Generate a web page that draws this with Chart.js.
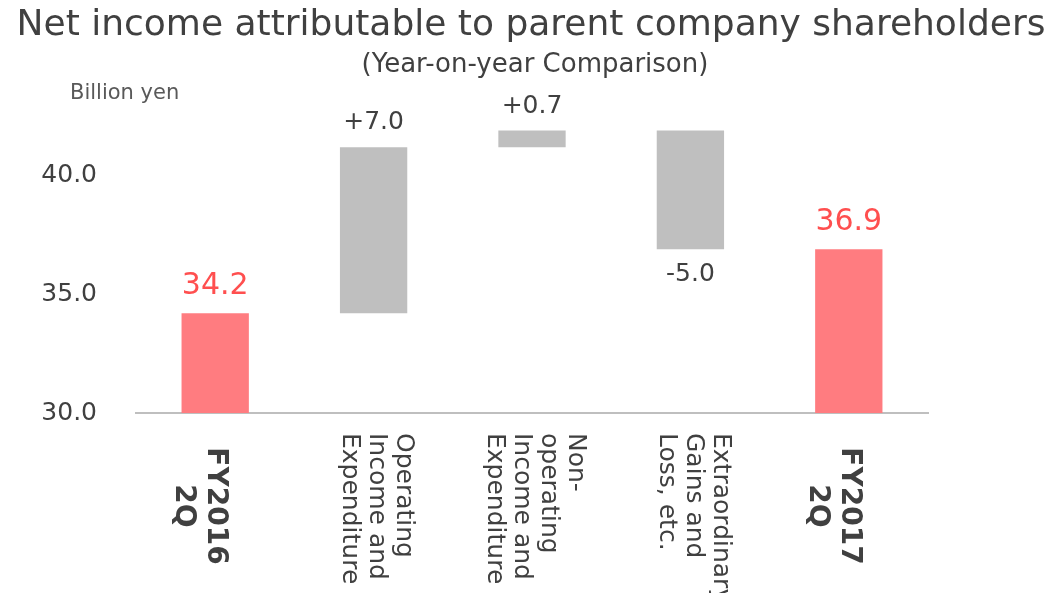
<!DOCTYPE html>
<html>
<head>
<meta charset="utf-8">
<script src="https://cdn.jsdelivr.net/npm/chart.js@4"></script>
<style>
  html, body { margin: 0; padding: 0; background: #fff; }
  #wrap { width: 1060px; height: 593px; }
</style>
</head>
<body>
<div id="wrap"><canvas id="waterfallChart"></canvas></div>
<script>
// chart data
const categories = [
    ['FY2016', '2Q'],
    ['Operating', 'Income and', 'Expenditure'],
    ['Non-', 'operating', 'Income and', 'Expenditure'],
    ['Extraordinary', 'Gains and', 'Loss, etc.'],
    ['FY2017', '2Q']
];
const barStart = [0, 34.2, 41.2, 41.9, 0];
const barEnd = [34.2, 41.2, 41.9, 36.9, 36.9];
const valueLabels = ['34.2', '+7.0', '+0.7', '-5.0', '36.9'];
const isTotal = [true, false, false, false, true];
const yTicks = [30, 35, 40];

const titleText = 'Net income attributable to parent company shareholders';
const subtitleText = '(Year-on-year Comparison)';
const unitText = 'Billion yen';

const RED = '#FF7C80';
const RED_TEXT = '#FF4F4F';
const GRAY = '#BFBFBF';
const TEXT = '#404040';
const FONT = '"DejaVu Sans", Verdana, sans-serif';

// draws titles, value labels and the rotated category labels
const labelPlugin = {
    id: 'waterfallLabels',
    afterDraw: function (chart) {
        const ctx = chart.ctx;
        const xScale = chart.scales.x;
        const yScale = chart.scales.y;
        const meta = chart.getDatasetMeta(0);

        ctx.save();
        ctx.textAlign = 'center';
        ctx.textBaseline = 'middle';
        ctx.fillStyle = TEXT;
        ctx.font = '36px ' + FONT;
        ctx.fillText(titleText, 531, 26);
        ctx.font = '26px ' + FONT;
        ctx.fillText(subtitleText, 535, 65);

        ctx.textAlign = 'left';
        ctx.fillStyle = '#595959';
        ctx.font = '21px ' + FONT;
        ctx.fillText(unitText, 70, 94);

        // value labels
        meta.data.forEach(function (bar, i) {
            const up = barEnd[i] >= barStart[i];
            const top = yScale.getPixelForValue(Math.max(barStart[i], barEnd[i]));
            const bottom = yScale.getPixelForValue(Math.min(barStart[i], barEnd[i]));
            ctx.textAlign = 'center';
            if (isTotal[i]) {
                ctx.fillStyle = RED_TEXT;
                ctx.font = '30px ' + FONT;
            } else {
                ctx.fillStyle = TEXT;
                ctx.font = '25px ' + FONT;
            }
            if (up) {
                ctx.textBaseline = 'bottom';
                ctx.fillText(valueLabels[i], bar.x, top - 12);
            } else {
                ctx.textBaseline = 'top';
                ctx.fillText(valueLabels[i], bar.x, bottom + 13);
            }
        });

        // category labels, rotated clockwise
        categories.forEach(function (lines, i) {
            const cx = xScale.getPixelForValue(i);
            const bold = isTotal[i];
            const n = lines.length;
            ctx.save();
            ctx.fillStyle = TEXT;
            ctx.font = (bold ? 'bold 28px ' : '25px ') + FONT;
            ctx.textBaseline = 'middle';
            ctx.translate(cx, bold ? 506 : 433);
            ctx.rotate(Math.PI / 2);
            ctx.textAlign = bold ? 'center' : 'left';
            lines.forEach(function (line, k) {
                // first line sits on the right after rotation
                const off = bold ? k * 32 : (k - (n - 1) / 2) * 27 - 3;
                ctx.fillText(line, 0, off);
            });
            ctx.restore();
        });
        ctx.restore();
    }
};

const ctx = document.getElementById('waterfallChart').getContext('2d');
new Chart(ctx, {
    type: 'bar',
    data: {
        labels: categories.map(c => c.join(' ')),
        datasets: [{
            data: barStart.map((s, i) => [s, barEnd[i]]),
            backgroundColor: isTotal.map(t => t ? RED : GRAY),
            borderWidth: 0,
            barPercentage: 0.425,
            categoryPercentage: 1
        }]
    },
    options: {
        responsive: true,
        maintainAspectRatio: false,
        animation: false,
        layout: {
            padding: { top: 57, right: 132, bottom: 180, left: 0 }
        },
        plugins: {
            legend: { display: false },
            tooltip: { enabled: false }
        },
        scales: {
            x: {
                grid: { display: false, drawTicks: false },
                border: { display: true, color: GRAY, width: 2 },
                ticks: { display: false }
            },
            y: {
                min: 30,
                max: 45,
                grid: { display: false, drawTicks: false },
                border: { display: false },
                afterBuildTicks: function (scale) {
                    scale.ticks = yTicks.map(v => ({ value: v }));
                },
                afterFit: function (scale) {
                    scale.width = 136;
                },
                ticks: {
                    padding: 39,
                    color: TEXT,
                    font: { family: FONT, size: 25 },
                    callback: function (v) { return v.toFixed(1); }
                }
            }
        }
    },
    plugins: [labelPlugin]
});
</script>
</body>
</html>
